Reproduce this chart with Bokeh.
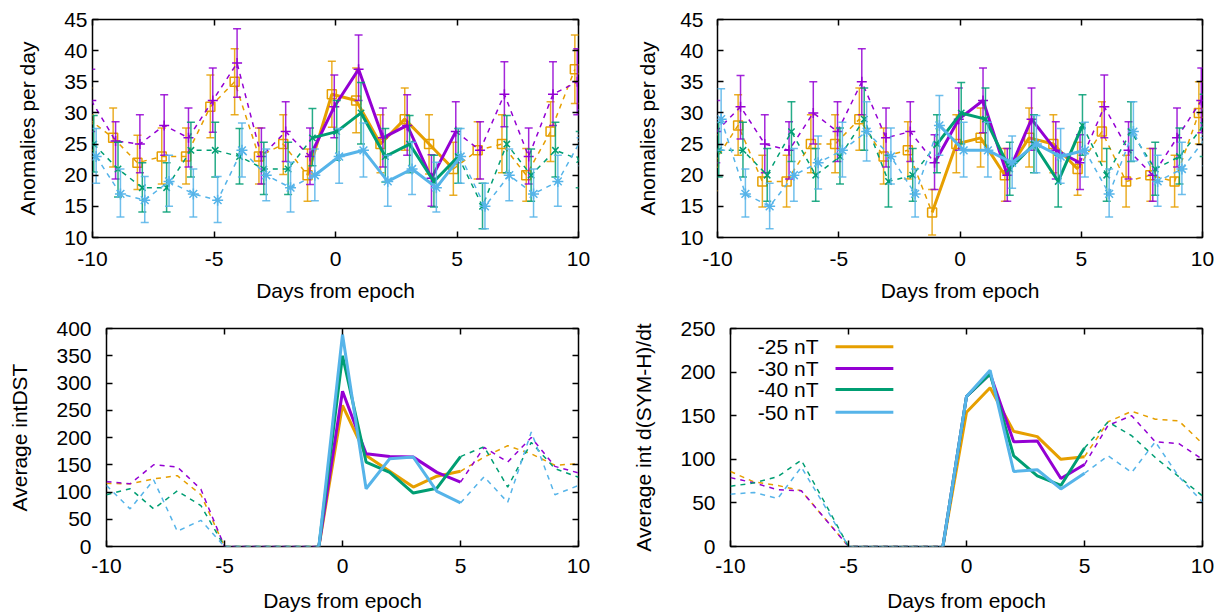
from bokeh.plotting import figure
from bokeh.models import FixedTicker, LinearAxis, Range1d, Label
from bokeh.layouts import row, column
from bokeh.embed import file_html
from bokeh.resources import INLINE

# ---------------- data ----------------
days = list(range(-10, 11))
x_ticks = [-10, -5, 0, 5, 10]
x_tick_labels = ["-10", "-5", "0", "5", "10"]
series_labels = ["-25 nT", "-30 nT", "-40 nT", "-50 nT"]

# Top-left: anomalies per day (value, low, high)
a25 = [29, 26, 22, 23, 23, 31, 35, 23, 25, 20, 33, 32, 25, 29, 25, 21, 24, 25, 20, 27, 37]
a25_lo = [24, 21.3, 17.7, 18.6, 18.6, 26.0, 29.7, 18.6, 20.1, 15.8, 27.7, 26.8, 20.4, 24.0, 20.2, 16.8, 19.4, 20.4, 15.8, 22.2, 31.5]
a25_hi = [34, 30.8, 26.4, 27.6, 27.6, 36.1, 40.3, 27.6, 29.7, 24.2, 38.3, 37.2, 29.7, 34.0, 29.7, 25.3, 28.6, 29.7, 24.3, 31.8, 42.5]
a30 = [32, 25.5, 25, 28, 26, 32, 38, 23, 27, 23, 31, 37, 26, 28, 19.5, 27, 24, 33, 23, 33, 35]
a30_lo = [27, 19.4, 20.4, 23.2, 21.3, 26.9, 32.5, 18.6, 22.2, 18.5, 26.0, 32.0, 21.3, 23.2, 15.0, 22.0, 19.4, 27.8, 18.6, 28.0, 29.7]
a30_hi = [37, 28.6, 29.7, 32.9, 30.8, 37.2, 43.5, 27.6, 31.8, 27.6, 36.1, 42.5, 30.8, 32.9, 23.3, 31.8, 28.6, 38.2, 27.6, 38.2, 40.3]
a40 = [25, 21, 18, 18, 24, 24, 23, 21, 21, 26, 27, 30, 23, 25, 19, 23, 15, 25, 20, 24, 22.5]
a40_lo = [20.5, 16.5, 14.1, 14.1, 19.7, 19.7, 18.6, 16.9, 16.9, 21.5, 22.4, 25.0, 18.9, 20.4, 14.9, 18.7, 11.4, 20.4, 15.8, 19.7, 18.0]
a40_hi = [29.6, 25.3, 22.0, 22.0, 28.5, 28.5, 27.5, 25.3, 25.3, 30.7, 32.0, 34.9, 27.5, 29.6, 23.2, 27.5, 18.7, 29.6, 24.2, 28.5, 27.0]
a50 = [23, 17, 16, 19, 17, 16, 24, 20, 18, 20, 23, 24, 19, 21, 18, 23, 15, 20, 17, 19, 26]
a50_lo = [18.7, 13.3, 12.4, 15.0, 13.3, 12.4, 19.7, 15.9, 14.1, 15.9, 18.7, 19.7, 15.0, 16.9, 14.1, 18.7, 11.4, 15.9, 13.3, 15.0, 21.5]
a50_hi = [27.5, 21.0, 19.8, 23.2, 21.0, 19.8, 28.4, 24.2, 22.1, 24.2, 27.5, 28.4, 23.2, 25.3, 22.1, 27.5, 18.7, 24.2, 21.0, 23.2, 30.5]

# Top-right: anomalies per day (value, low, high)
b25 = [22, 28, 19, 19, 25, 25, 29, 23, 24, 14, 25, 26, 20, 26, 25, 21, 27, 19, 20, 19, 30]
b25_lo = [17.5, 23.2, 14.9, 14.9, 20.4, 20.4, 24.0, 18.6, 19.4, 10.4, 20.4, 21.3, 15.8, 21.3, 20.4, 16.8, 22.2, 14.9, 15.8, 14.9, 25.0]
b25_hi = [26.5, 32.9, 23.2, 23.2, 29.7, 29.7, 34.0, 27.6, 28.6, 17.7, 29.7, 30.8, 24.3, 30.8, 29.7, 25.3, 31.8, 23.2, 24.3, 23.2, 35.0]
b30 = [27, 31, 25, 24, 30, 27, 35, 26, 27, 22, 29, 32, 20, 29, 24, 22, 31, 24, 20, 26, 32]
b30_lo = [22, 25.8, 20.4, 19.4, 25.0, 22.2, 29.7, 21.3, 22.2, 17.7, 24.0, 26.8, 15.8, 24.0, 19.4, 17.7, 26.0, 19.4, 15.8, 21.3, 26.8]
b30_hi = [32, 36.0, 29.7, 28.6, 35.0, 31.8, 40.3, 30.8, 31.8, 26.5, 34.0, 37.2, 24.3, 34.0, 28.6, 26.5, 36.1, 28.6, 24.3, 30.8, 37.2]
b40 = [24, 24, 20, 27, 20, 23, 29, 19, 20, 25, 30, 29, 21, 25, 19, 28, 20, 27, 21, 23, 28]
b40_lo = [19.7, 19.7, 15.8, 22.2, 15.8, 18.6, 24.0, 14.9, 15.8, 20.4, 25.0, 24.0, 16.8, 20.4, 14.9, 23.2, 15.8, 22.2, 16.8, 18.6, 23.0]
b40_hi = [28.5, 28.5, 24.3, 31.8, 24.3, 27.6, 34.0, 23.2, 24.3, 29.7, 34.9, 34.0, 25.3, 29.7, 23.2, 32.9, 24.3, 31.8, 25.3, 27.6, 33.0]
b50 = [29, 17, 15, 20, 22, 24, 27, 23, 17, 28, 24, 24, 22, 25, 23, 24, 17, 27, 19, 21, 26]
b50_lo = [24.0, 13.3, 11.4, 15.8, 17.8, 19.7, 22.3, 18.6, 13.3, 23.2, 19.7, 19.7, 17.9, 20.4, 18.7, 19.7, 13.3, 22.3, 15.0, 16.9, 21.5]
b50_hi = [33.9, 21.0, 18.7, 24.3, 26.3, 28.5, 31.8, 27.6, 21.0, 32.8, 28.5, 28.5, 26.3, 29.6, 27.5, 28.5, 21.0, 31.8, 23.2, 25.3, 30.5]

# Bottom-left: average intDST
c25 = [116, 115, 124, 130, 95, 0, 0, 0, 0, 0, 259, 167, 138, 109, 129, 138, 164, 185, 170, 149, 152]
c30 = [119, 115, 150, 146, 105, 0, 0, 0, 0, 0, 285, 170, 165, 164, 136, 118, 182, 155, 200, 147, 135]
c40 = [95, 106, 69, 102, 75, 0, 0, 0, 0, 0, 350, 155, 136, 98, 107, 165, 183, 109, 191, 143, 127]
c50 = [112, 69, 122, 28, 48, 0, 0, 0, 0, 0, 389, 106, 161, 164, 101, 80, 128, 81, 210, 95, 112]

# Bottom-right: average int d(SYM-H)/dt
d25 = [86, 74, 70, 64, 32, 0, 0, 0, 0, 0, 154, 182, 132, 126, 100, 103, 143, 155, 146, 144, 118]
d30 = [79, 73, 65, 64, 32, 0, 0, 0, 0, 0, 172, 198, 120, 121, 78, 94, 139, 150, 120, 118, 100]
d40 = [69, 73, 80, 99, 50, 0, 0, 0, 0, 0, 172, 198, 104, 81, 70, 113, 143, 127, 102, 80, 58]
d50 = [60, 62, 55, 91, 46, 0, 0, 0, 0, 0, 172, 202, 86, 88, 66, 84, 104, 85, 120, 80, 51]

# ---------------- style ----------------
colors = ["#e69f00", "#9400d3", "#009e73", "#56b4e9"]
markers = ["square", "cross", "x", "asterisk"]
marker_sizes = [9, 10, 9, 11]
offsets = [-0.15, -0.05, 0.05, 0.15]
FONT = "Liberation Sans"
FS = "21px"
SOLID_FROM, SOLID_TO = -1, 5


def make_fig(bl, fw, br, bt, bb, y0, y1, yticks, ylabel, ystand, ylabstand, xstand, xlabstand):
    p = figure(frame_width=fw, frame_height=218, x_range=Range1d(-10, 10), y_range=Range1d(y0, y1),
               output_backend="svg", toolbar_location=None,
               min_border_left=bl, min_border_right=br, min_border_top=bt, min_border_bottom=bb)
    p.grid.visible = False
    p.outline_line_color = "black"
    p.outline_line_width = 1.5
    p.background_fill_color = "white"
    p.border_fill_color = "white"
    p.xaxis.ticker = FixedTicker(ticks=x_ticks)
    p.xaxis.major_label_overrides = {t: s for t, s in zip(x_ticks, x_tick_labels)}
    p.yaxis.ticker = FixedTicker(ticks=yticks)
    for ax in (p.xaxis[0], p.yaxis[0]):
        ax.axis_line_color = None
        ax.major_tick_in = 6
        ax.major_tick_out = 0
        ax.major_tick_line_width = 1.5
        ax.major_tick_line_color = "black"
        ax.minor_tick_line_color = None
        ax.major_label_text_font = FONT
        ax.major_label_text_font_size = FS
        ax.major_label_text_color = "black"
        ax.axis_label_text_font = FONT
        ax.axis_label_text_font_size = FS
        ax.axis_label_text_font_style = "normal"
        ax.axis_label_text_color = "black"
    p.xaxis.axis_label = "Days from epoch"
    p.yaxis.axis_label = ylabel
    p.xaxis.major_label_standoff = xstand
    p.xaxis.axis_label_standoff = xlabstand
    p.yaxis.major_label_standoff = ystand
    p.yaxis.axis_label_standoff = ylabstand
    for loc, tks in (("above", x_ticks), ("right", yticks)):
        ax = LinearAxis(ticker=FixedTicker(ticks=tks), axis_line_color=None,
                        major_tick_in=6, major_tick_out=0, major_tick_line_width=1.5,
                        minor_tick_line_color=None, major_label_text_font_size="0px",
                        major_label_text_color=None, major_label_standoff=0)
        p.add_layout(ax, loc)
    return p


def split(xs, ys):
    left = [(x, y) for x, y in zip(xs, ys) if x <= SOLID_FROM + 0.2]
    mid = [(x, y) for x, y in zip(xs, ys) if SOLID_FROM - 0.2 <= x <= SOLID_TO + 0.2]
    right = [(x, y) for x, y in zip(xs, ys) if x >= SOLID_TO - 0.2]
    return left, mid, right


def draw_series(p, xs, ys, color, lo=None, hi=None, marker=None, msize=9):
    left, mid, right = split(xs, ys)
    for seg in (left, right):
        p.line([a for a, _ in seg], [b for _, b in seg], line_color=color, line_width=1.5,
               line_dash="5 5")
    if lo is not None:
        p.segment(xs, lo, xs, hi, line_color=color, line_width=1.5, line_alpha=0.85)
        p.scatter(xs, lo, marker="dash", size=8, line_color=color, line_width=1.5, line_alpha=0.85)
        p.scatter(xs, hi, marker="dash", size=8, line_color=color, line_width=1.5, line_alpha=0.85)
        p.scatter(xs, ys, marker=marker, size=msize, line_color=color, fill_color=None,
                  line_width=1.5)
    p.line([a for a, _ in mid], [b for _, b in mid], line_color=color, line_width=3)


# ---------------- panels ----------------
pA = make_fig(92, 486, 40, 19, 70, 10, 45, [10, 15, 20, 25, 30, 35, 40, 45],
              "Anomalies per day", 5, 22, 14, 10)
pB = make_fig(99, 485, 12, 19, 70, 10, 45, [10, 15, 20, 25, 30, 35, 40, 45],
              "Anomalies per day", 14, 18, 14, 10)
pC = make_fig(106, 472, 40, 21, 68, 0, 400, list(range(0, 401, 50)),
              "Average intDST", 15, 22, 12, 13)
pD = make_fig(112, 472, 12, 21, 68, 0, 250, list(range(0, 251, 50)),
              "Average int d(SYM-H)/dt", 15, 22, 12, 13)

top_left = [(a25, a25_lo, a25_hi), (a30, a30_lo, a30_hi), (a40, a40_lo, a40_hi), (a50, a50_lo, a50_hi)]
top_right = [(b25, b25_lo, b25_hi), (b30, b30_lo, b30_hi), (b40, b40_lo, b40_hi), (b50, b50_lo, b50_hi)]

for p, data in ((pA, top_left), (pB, top_right)):
    for i, (v, lo, hi) in enumerate(data):
        xs = [d + offsets[i] for d in days]
        draw_series(p, xs, v, colors[i], lo, hi, markers[i], marker_sizes[i])

for p, data in ((pC, [c25, c30, c40, c50]), (pD, [d25, d30, d40, d50])):
    for i, v in enumerate(data):
        draw_series(p, days, v, colors[i])

# legend in bottom-right panel (text left of the line sample)
leg_y = [229, 204, 180, 154]
for i, lab in enumerate(series_labels):
    pD.add_layout(Label(x=-6.27, y=leg_y[i], text=lab, text_align="right", text_baseline="middle",
                        text_font=FONT, text_font_size=FS, text_color="black"))
    pD.segment([-5.55], [leg_y[i]], [-3.1], [leg_y[i]], line_color=colors[i], line_width=3)

layout = column(row(pA, pB), row(pC, pD))
open("out.html", "w").write(file_html(layout, INLINE))
